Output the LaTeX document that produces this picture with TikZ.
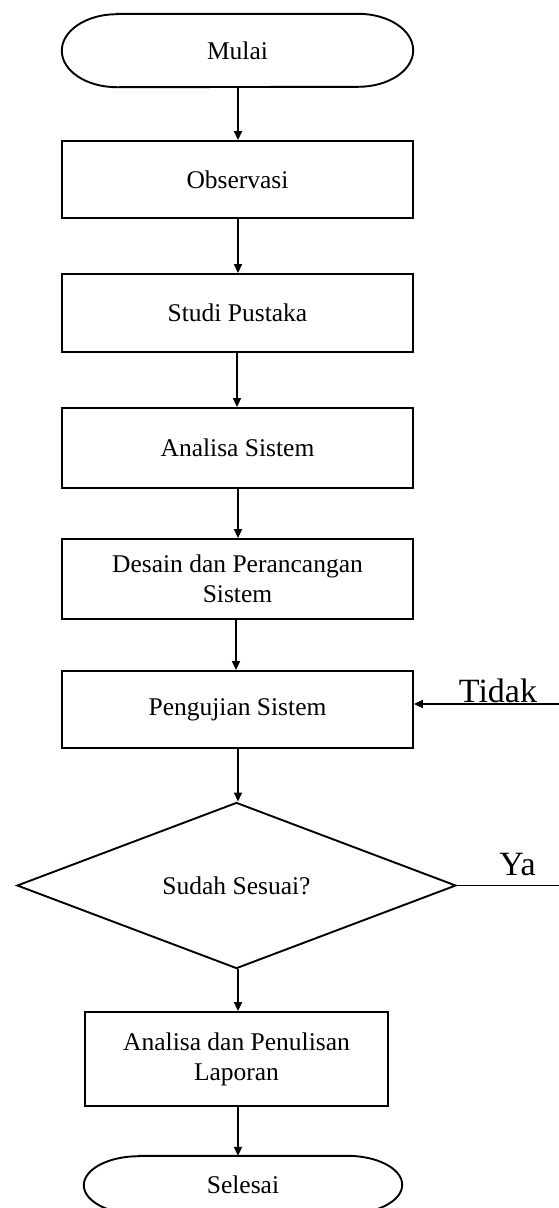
\documentclass[tikz,border=0pt]{standalone}
\usepackage{fontspec}
\setmainfont{Liberation Serif}
\usetikzlibrary{arrows.meta,shapes.geometric}
\begin{document}
\begin{tikzpicture}[x=1pt,y=-1pt,
  lw/.style={line width=1.9pt},
  txt/.style={font=\fontsize{25.5}{30}\selectfont, align=center},
  box/.style={draw, lw, inner sep=0pt, txt},
  term/.style={inner sep=0pt, txt},
  arr/.style={lw, -{Triangle[length=9pt,width=8pt]}},
  lbl/.style={font=\fontsize{34}{40}\selectfont, inner sep=0pt, anchor=base}]
\useasboundingbox (0,0) rectangle (559,1208);
\clip (0,0) rectangle (559,1208);
\fill[white] (0,0) rectangle (559,1208);

% terminators
\node[term, minimum width=351pt, minimum height=73pt] (mulai) at (237.5,50.5) {Mulai};
\draw[lw] ([xshift=55pt]mulai.north west) -- ([xshift=-55pt]mulai.north east)
  arc[start angle=90, end angle=-90, x radius=55pt, y radius=36.5pt]
  -- ([xshift=55pt]mulai.south west)
  arc[start angle=270, end angle=90, x radius=55pt, y radius=36.5pt] -- cycle;

% process boxes
\node[box, minimum width=351pt, minimum height=77pt] (obs) at (237.5,179.5) {Observasi};
\node[box, minimum width=351pt, minimum height=78pt] (studi) at (237.5,313) {Studi Pustaka};
\node[box, minimum width=351pt, minimum height=80pt] (anal) at (237.5,448) {Analisa Sistem};
\node[box, minimum width=351pt, minimum height=80pt] (desain) at (237.5,579) {Desain dan Perancangan\\Sistem};
\node[box, minimum width=351pt, minimum height=77pt] (uji) at (237.5,709.5) {Pengujian Sistem};
\node[draw, diamond, lw, inner sep=0pt, txt, minimum width=439pt, minimum height=161pt] (dec) at (236.5,885.5) {Sudah Sesuai?};
\node[box, minimum width=303pt, minimum height=94pt] (lap) at (236.5,1059) {Analisa dan Penulisan\\Laporan};

\node[term, minimum width=318pt, minimum height=58pt] (sel) at (243,1185) {Selesai};
\draw[lw] ([xshift=55pt]sel.north west) -- ([xshift=-55pt]sel.north east)
  arc[start angle=90, end angle=-90, x radius=55pt, y radius=29pt]
  -- ([xshift=55pt]sel.south west)
  arc[start angle=270, end angle=90, x radius=55pt, y radius=29pt] -- cycle;

% connectors
\draw[arr] (238,0 |- mulai.south) coordinate (a0) -- (a0 |- obs.north);
\draw[arr] (238,0 |- obs.south) coordinate (a1) -- (a1 |- studi.north);
\draw[arr] (237,0 |- studi.south) coordinate (a2) -- (a2 |- anal.north);
\draw[arr] (238,0 |- anal.south) coordinate (a3) -- (a3 |- desain.north);
\draw[arr] (236,0 |- desain.south) coordinate (a4) -- (a4 |- uji.north);
\draw[arr] (238,0 |- uji.south) coordinate (a5) -- (a5 |- dec.north);
\draw[arr] (238,0 |- dec.south) coordinate (a6) -- (a6 |- lap.north);
\draw[arr] (238,0 |- lap.south) coordinate (a7) -- (a7 |- sel.north);

% loop-back and exit
\coordinate (tstart) at (559,704);
\draw[arr] (tstart) -- (tstart -| uji.east);
\node[lbl] (tidak) at (498,702) {Tidak};
\coordinate (yend) at (559,0);
\draw[lw] (dec.east) -- (dec.east -| yend);
\node[lbl] (ya) at (517.5,875) {Ya};
\end{tikzpicture}
\end{document}
